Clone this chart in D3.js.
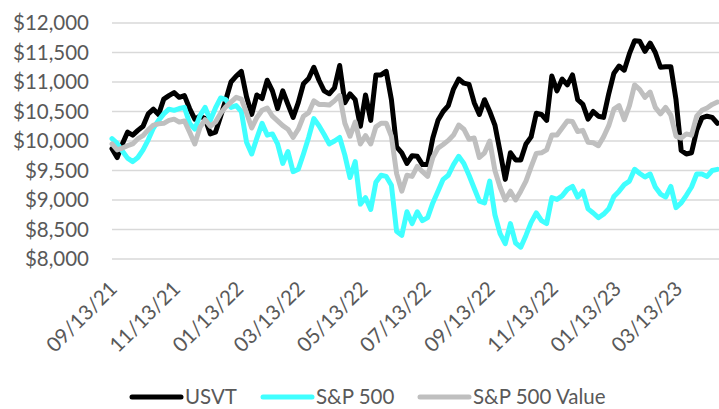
<!DOCTYPE html>
<html><head><meta charset="utf-8">
<script src="https://cdn.jsdelivr.net/npm/d3@7"></script>
<style>body{margin:0;background:#fff}svg{display:block}text{font-family:Lato,sans-serif}</style>
</head><body><svg id="chart" width="719" height="409"></svg>
<script>
const dates = [
"2021-09-13","2021-09-18","2021-09-23","2021-09-28","2021-10-03","2021-10-08","2021-10-13","2021-10-18","2021-10-23","2021-10-28",
"2021-11-02","2021-11-07","2021-11-12","2021-11-17","2021-11-22","2021-11-27","2021-12-02","2021-12-07","2021-12-12","2021-12-17",
"2021-12-22","2021-12-27","2022-01-01","2022-01-06","2022-01-11","2022-01-16","2022-01-21","2022-01-26","2022-01-31","2022-02-05",
"2022-02-10","2022-02-15","2022-02-20","2022-02-25","2022-03-02","2022-03-07","2022-03-12","2022-03-17","2022-03-22","2022-03-27",
"2022-04-01","2022-04-06","2022-04-11","2022-04-16","2022-04-21","2022-04-26","2022-05-01","2022-05-06","2022-05-11","2022-05-16",
"2022-05-21","2022-05-26","2022-05-31","2022-06-05","2022-06-10","2022-06-15","2022-06-20","2022-06-25","2022-06-30","2022-07-05",
"2022-07-10","2022-07-15","2022-07-20","2022-07-25","2022-07-30","2022-08-04","2022-08-09","2022-08-14","2022-08-19","2022-08-24",
"2022-08-29","2022-09-03","2022-09-08","2022-09-13","2022-09-18","2022-09-23","2022-09-28","2022-10-03","2022-10-08","2022-10-13",
"2022-10-18","2022-10-23","2022-10-28","2022-11-02","2022-11-07","2022-11-12","2022-11-17","2022-11-22","2022-11-27","2022-12-02",
"2022-12-07","2022-12-12","2022-12-17","2022-12-22","2022-12-27","2023-01-01","2023-01-06","2023-01-11","2023-01-16","2023-01-21",
"2023-01-26","2023-01-31","2023-02-05","2023-02-10","2023-02-15","2023-02-20","2023-02-25","2023-03-02","2023-03-07","2023-03-12",
"2023-03-17","2023-03-22","2023-03-27","2023-04-01","2023-04-06","2023-04-11","2023-04-16","2023-04-21"];

const usvt = [
9870,9720,9950,10150,10100,10180,10250,10460,10540,10450,
10710,10770,10820,10740,10770,10550,10370,10420,10380,10120,
10150,10420,10700,11000,11100,11180,10750,10450,10780,10720,
11030,10850,10550,10850,10620,10400,10650,10970,11060,11250,
11030,10850,10800,10900,11280,10650,10800,10700,10250,10780,
10350,11120,11120,11180,10700,9900,9800,9620,9750,9740,
9600,9600,10050,10350,10500,10600,10880,11050,10980,10960,
10650,10450,10700,10500,10270,9820,9350,9800,9680,9680,
9950,10070,10470,10450,10350,11100,10850,11050,10950,11120,
10700,10620,10370,10500,10420,10400,10800,11150,11270,11200,
11480,11700,11690,11520,11660,11500,11250,11260,11260,10700,
9840,9780,9800,10180,10390,10420,10400,10300];

const sp500 = [
10040,9960,9830,9710,9650,9720,9850,10020,10220,10350,
10460,10540,10520,10550,10570,10300,10200,10430,10570,10350,
10560,10730,10700,10570,10600,10500,9980,9780,10050,10300,
10100,10120,9950,9620,9820,9480,9520,9780,10060,10380,
10260,10110,9950,10000,10060,9760,9380,9650,8930,9040,
8840,9300,9420,9400,9250,8470,8400,8800,8600,8800,
8650,8700,8950,9150,9350,9420,9600,9740,9620,9420,
9200,8980,8950,9320,8750,8430,8260,8600,8270,8200,
8400,8620,8780,8650,8600,9040,9010,9070,9180,9230,
9050,9150,8850,8780,8700,8760,8850,9060,9150,9260,
9320,9520,9450,9390,9440,9220,9100,9050,9230,8870,
8950,9080,9220,9440,9440,9400,9500,9520];

const spValue = [
9950,9850,9880,9920,9950,10040,10090,10190,10270,10290,
10300,10350,10370,10320,10340,10150,9950,10230,10360,10250,
10320,10470,10580,10660,10740,10710,10480,10220,10400,10520,
10560,10420,10340,10260,10200,10060,10200,10420,10480,10680,
10620,10620,10610,10680,10770,10300,10080,10320,9950,10090,
9950,10240,10300,10300,10080,9450,9150,9420,9400,9570,
9480,9400,9720,9880,9940,10010,10100,10270,10200,10030,
10050,9720,9800,10000,9500,9220,9000,9150,9000,9150,
9320,9560,9790,9800,9850,10100,10100,10220,10340,10330,
10160,10180,9980,9970,9920,10070,10260,10540,10600,10360,
10600,10950,10870,10740,10830,10570,10460,10570,10440,10080,
10050,10120,10100,10420,10520,10560,10620,10660];

const yTicks = [8000,8500,9000,9500,10000,10500,11000,11500,12000];
const xTickLabels = ["09/13/21","11/13/21","01/13/22","03/13/22","05/13/22","07/13/22","09/13/22","11/13/22","01/13/23","03/13/23"];
const seriesNames = ["USVT","S&P 500","S&P 500 Value"];
const seriesColors = ["#000000","#40ffff","#bfbfbf"];

const parseISO = d3.timeParse("%Y-%m-%d");
const parseTick = d3.timeParse("%m/%d/%y");
const dateObjs = dates.map(parseISO);

const svg = d3.select("#chart");
const W = 719;
const plotL = 112, plotR = 717.4, plotT = 23, plotB = 259;

const x = d3.scaleTime().domain([dateObjs[0], dateObjs[dateObjs.length-1]]).range([plotL, plotR]);
const y = d3.scaleLinear().domain([8000, 12000]).range([plotB, plotT]);

// gridlines
svg.append("g").selectAll("line").data(yTicks).join("line")
  .attr("x1", plotL).attr("x2", W)
  .attr("y1", d => y(d)).attr("y2", d => y(d))
  .attr("stroke", "#d9d9d9").attr("stroke-width", 1.4);

// y axis labels
const yAxis = d3.axisLeft(y).tickValues(yTicks).tickSize(0).tickPadding(23).tickFormat(d3.format("$,"));
const gy = svg.append("g").attr("transform", `translate(${plotL},0)`).call(yAxis);
gy.select(".domain").remove();
gy.selectAll("text").attr("fill", "#595959").style("font-size", "20.5px").style("font-family", "Lato, sans-serif");

// x axis labels
const xAxis = d3.axisBottom(x).tickValues(xTickLabels.map(parseTick)).tickSize(0).tickFormat(d3.timeFormat("%m/%d/%y"));
const gx = svg.append("g").attr("transform", `translate(0,${plotB})`).call(xAxis);
gx.select(".domain").remove();
gx.selectAll("text")
  .attr("fill", "#595959").style("font-size", "20.5px").style("font-family", "Lato, sans-serif")
  .attr("text-anchor", "end")
  .attr("dy", null).attr("y", null)
  .attr("transform", "translate(6,31) rotate(-45)");

// lines
const seriesData = [usvt, sp500, spValue];
const line = d3.line().x((d, i) => x(dateObjs[i])).y(d => y(d)).curve(d3.curveLinear);
seriesData.forEach((vals, si) => {
  svg.append("path").datum(vals)
    .attr("fill", "none").attr("stroke", seriesColors[si])
    .attr("stroke-width", 5).attr("stroke-linejoin", "round").attr("stroke-linecap", "round")
    .attr("d", line);
});

// legend
const legendItems = [{x: 130, name: seriesNames[0], c: seriesColors[0]},
                     {x: 261, name: seriesNames[1], c: seriesColors[1]},
                     {x: 418, name: seriesNames[2], c: seriesColors[2]}];
const lg = svg.append("g");
legendItems.forEach(it => {
  lg.append("line").attr("x1", it.x + 2).attr("x2", it.x + 51).attr("y1", 397).attr("y2", 397)
    .attr("stroke", it.c).attr("stroke-width", 5).attr("stroke-linecap", "round");
  lg.append("text").attr("x", it.x + 55).attr("y", 397).attr("dy", "0.35em")
    .attr("fill", "#595959").style("font-size", "20.5px").text(it.name);
});
</script></body></html>
